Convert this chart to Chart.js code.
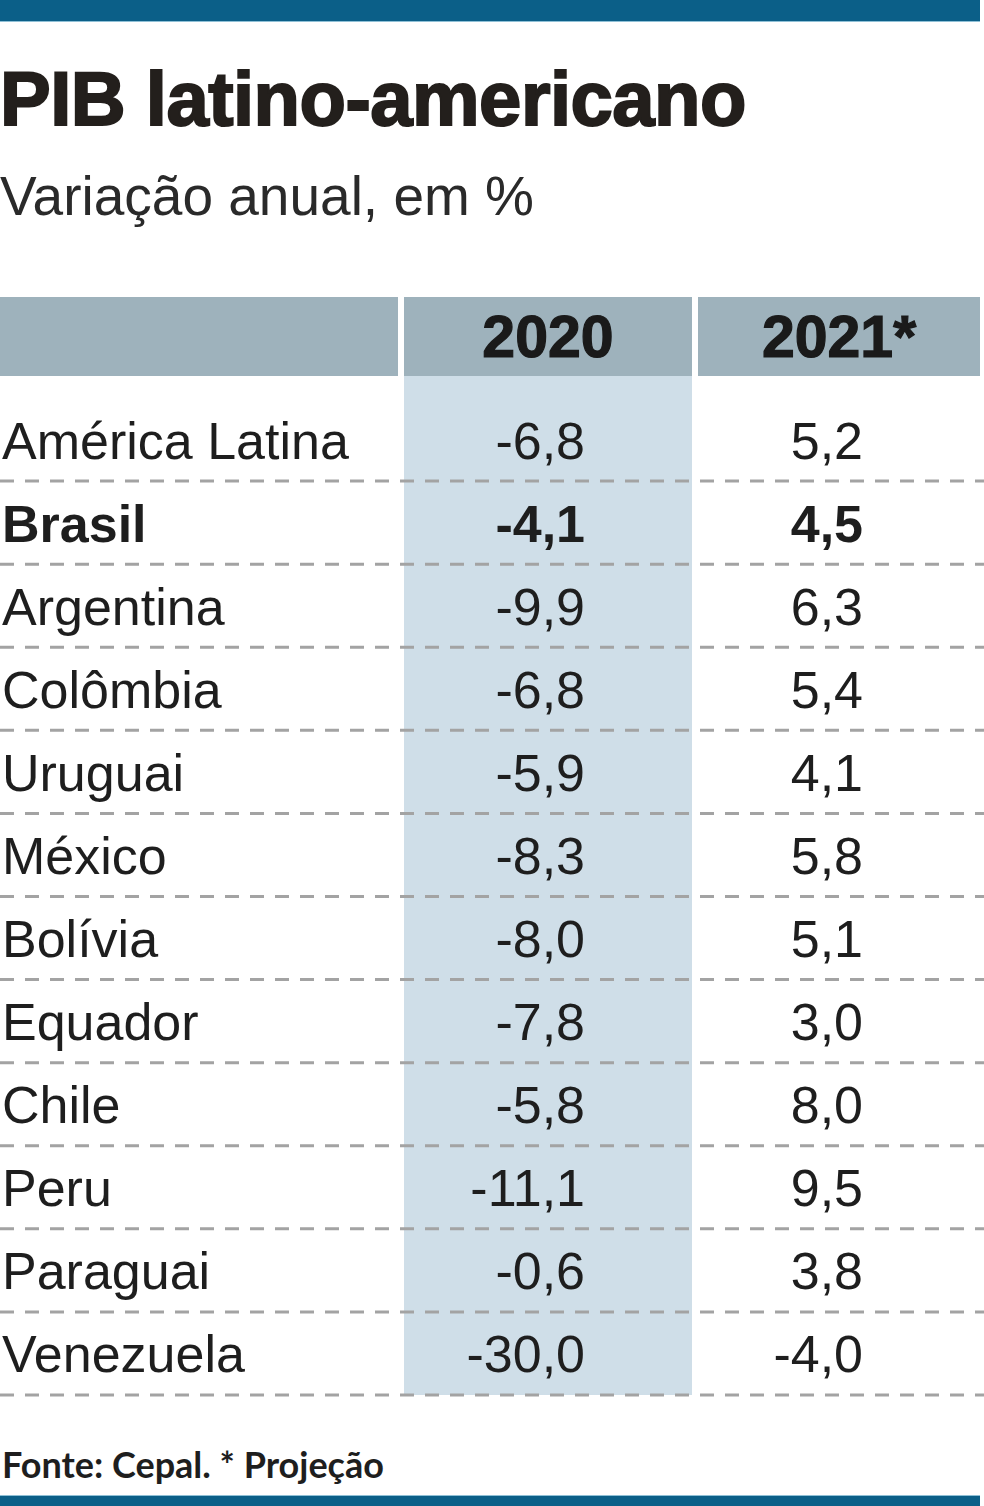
<!DOCTYPE html>
<html lang="pt-BR">
<head>
<meta charset="utf-8">
<script src="https://cdn.jsdelivr.net/npm/chart.js@4/dist/chart.umd.min.js"></script>
<style>
  html, body { margin: 0; padding: 0; background: #fff; }
  body { width: 984px; height: 1506px; position: relative; overflow: hidden; }
  .bar { position: absolute; left: 0; width: 980px; background: #0b5f88; }
  #topbar { top: 0; height: 21px; box-shadow: 0 1px 0 #8fc0d6; }
  #bottombar { top: 1496px; height: 10px; box-shadow: 0 -1px 0 #8fc0d6; }
  .txt { position: absolute; left: 0; white-space: nowrap; color: #231f1c; }
  #title { top: 61px; font: 700 76px/76px "Liberation Sans", Arial, sans-serif; -webkit-text-stroke: 2px #231f1c; letter-spacing: -0.5px; }
  #subtitle { top: 169px; font: 400 55px/55px "Liberation Sans", Arial, sans-serif; color: #2a2a2a; }
  #source { top: 1446px; left: 2px; font: 700 36px/36px Lato, "Liberation Sans", sans-serif; color: #1e1e1e; }
  #c { position: absolute; left: 0; top: 297px; }
</style>
</head>
<body>
<div class="bar" id="topbar"></div>
<div class="txt" id="title">PIB latino-americano</div>
<div class="txt" id="subtitle">Variação anual, em %</div>
<canvas id="c" width="984" height="1106"></canvas>
<div class="txt" id="source">Fonte: Cepal. * Projeção</div>
<div class="bar" id="bottombar"></div>

<script>
// ---- data ----
const countries = ['América Latina', 'Brasil', 'Argentina', 'Colômbia', 'Uruguai', 'México',
                   'Bolívia', 'Equador', 'Chile', 'Peru', 'Paraguai', 'Venezuela'];
const gdp2020 = [-6.8, -4.1, -9.9, -6.8, -5.9, -8.3, -8.0, -7.8, -5.8, -11.1, -0.6, -30.0];
const gdp2021 = [5.2, 4.5, 6.3, 5.4, 4.1, 5.8, 5.1, 3.0, 8.0, 9.5, 3.8, -4.0];
const columnLabels = ['2020', '2021*'];
const highlighted = ['Brasil'];

// ---- layout (column geometry in x-scale units = px) ----
const layout = {
  labelCol: [0, 398],
  valueCols: [[404, 692], [698, 980]],
  valueRight: [585, 863],
  lineEnd: 984,
  headerHeight: 79,
  headerGap: 22
};

const fmt = v => v.toFixed(1).replace('.', ',');

const tablePlugin = {
  id: 'tablePlugin',
  afterDraw(chart) {
    const { ctx, chartArea: a, scales: { x, y } } = chart;
    const band = y.getPixelForValue(1) - y.getPixelForValue(0);
    const headerBottom = a.top - layout.headerGap;
    const headerTop = headerBottom - layout.headerHeight;
    const px = v => x.getPixelForValue(v);

    ctx.save();
    // header band
    ctx.fillStyle = '#9eb2bc';
    [layout.labelCol, ...layout.valueCols].forEach(c => {
      ctx.fillRect(px(c[0]), headerTop, px(c[1]) - px(c[0]), layout.headerHeight);
    });
    // shaded 2020 column
    const c0 = layout.valueCols[0];
    ctx.fillStyle = '#cfdee8';
    ctx.fillRect(px(c0[0]), headerBottom, px(c0[1]) - px(c0[0]), a.bottom - headerBottom);

    // header labels
    ctx.fillStyle = '#1a1a1a';
    ctx.font = '700 59px "Liberation Sans", Arial, sans-serif';
    ctx.textAlign = 'center';
    ctx.textBaseline = 'alphabetic';
    ctx.lineWidth = 1.2;
    ctx.strokeStyle = '#1a1a1a';
    columnLabels.forEach((lab, j) => {
      const c = layout.valueCols[j];
      const cx = (px(c[0]) + px(c[1])) / 2;
      const by = (headerTop + headerBottom) / 2 + 20;
      ctx.fillText(lab, cx, by);
      ctx.strokeText(lab, cx, by);
    });

    // rows
    countries.forEach((name, i) => {
      const cy = y.getPixelForValue(i);
      const by = cy + 19;
      const bold = highlighted.includes(name);
      ctx.font = (bold ? '700 ' : '400 ') + '52px "Liberation Sans", Arial, sans-serif';
      ctx.fillStyle = '#1e1e1e';
      ctx.textAlign = 'left';
      ctx.fillText(name, px(layout.labelCol[0]) + 2, by);
      ctx.textAlign = 'right';
      ctx.fillText(fmt(gdp2020[i]), px(layout.valueRight[0]), by);
      ctx.fillText(fmt(gdp2021[i]), px(layout.valueRight[1]), by);

      // dashed separator under row
      const ly = cy + band / 2;
      ctx.beginPath();
      ctx.setLineDash([14, 11]);
      ctx.lineWidth = 3;
      ctx.strokeStyle = '#a3a3a3';
      ctx.moveTo(px(0), ly);
      ctx.lineTo(px(layout.lineEnd), ly);
      ctx.stroke();
      ctx.setLineDash([]);
    });
    ctx.restore();
  }
};

new Chart(document.getElementById('c'), {
  type: 'line',
  data: { labels: countries, datasets: [] },
  options: {
    responsive: false,
    animation: false,
    events: [],
    layout: { padding: { top: 101, bottom: 8, left: 0, right: 0 } },
    scales: {
      x: { type: 'linear', display: false, min: 0, max: 984 },
      y: { type: 'category', labels: countries, display: false, offset: true }
    },
    plugins: { legend: { display: false }, tooltip: { enabled: false }, title: { display: false } }
  },
  plugins: [tablePlugin]
});
</script>
</body>
</html>
